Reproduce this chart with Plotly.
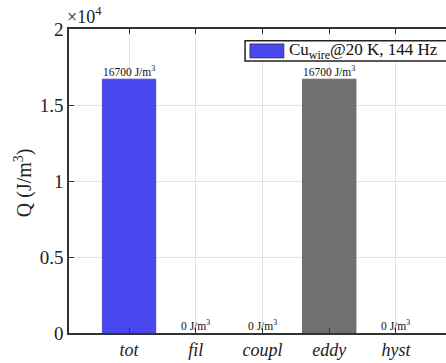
import plotly.graph_objects as go

# Loss components (J/m^3)
categories = ["tot", "fil", "coupl", "eddy", "hyst"]
positions = [1, 2, 3, 4, 5]
total_values = [16700, 0, 0, 0, 0]
component_values = [0, 0, 0, 16700, 0]
value_labels = [16700, 0, 0, 16700, 0]
y_ticks = [0, 5000, 10000, 15000, 20000]
y_tick_text = ["0", "0.5", "1", "1.5", "2"]
series_name = "Cu<sub>wire</sub>@20 K, 144 Hz"

serif = "Liberation Serif, DejaVu Serif, serif"
blue = "#4848EE"
gray = "#717171"

fig = go.Figure()
fig.add_trace(go.Bar(
    x=positions, y=total_values, width=0.8, name=series_name, showlegend=False,
    marker=dict(color=blue, line=dict(color="#3a3ad0",
                                      width=[0.8 if v else 0 for v in total_values])),
))
fig.add_trace(go.Bar(
    x=positions, y=component_values, width=0.8, showlegend=False,
    marker=dict(color=gray, line=dict(color="#5a5a5a",
                                      width=[0.8 if v else 0 for v in component_values])),
))

for xp, v in zip(positions, value_labels):
    fig.add_annotation(
        x=xp, y=v, text=f"{v} J/m<sup>3</sup>", showarrow=False,
        yanchor="bottom", yshift=-1, font=dict(family=serif, size=11.5, color="#111"),
    )

# exponent label of the y axis
fig.add_annotation(
    xref="paper", yref="paper", x=-0.01, y=1.0, xanchor="left", yanchor="bottom",
    text="×10<sup>4</sup>", showarrow=False, font=dict(family=serif, size=18, color="#222"),
)

# y axis title
fig.add_annotation(
    xref="paper", yref="paper", x=-0.122, y=0.493, xanchor="center", yanchor="middle",
    text="Q (J/m<sup>3</sup>)", textangle=-90, showarrow=False,
    font=dict(family=serif, size=20, color="#222"),
)

# legend box
fig.add_shape(type="rect", xref="paper", yref="paper", x0=0.467, x1=1.02, y0=0.895, y1=0.961,
              line=dict(color="#222", width=1.5), fillcolor="white", layer="above")
fig.add_shape(type="rect", xref="paper", yref="paper", x0=0.480, x1=0.570, y0=0.905, y1=0.951,
              line=dict(color="#333", width=0.8), fillcolor=blue, layer="above")
fig.add_annotation(
    xref="paper", yref="paper", x=0.577, y=0.928, xanchor="left", yanchor="middle",
    text=series_name, showarrow=False, font=dict(family=serif, size=17, color="#111"),
)

fig.update_layout(
    width=446, height=363,
    margin=dict(l=69, r=0, t=29, b=30),
    paper_bgcolor="white", plot_bgcolor="white",
    barmode="overlay",
    showlegend=False,
    xaxis=dict(
        range=[0.1, 5.75], tickvals=positions,
        ticktext=[f"<i>{c}</i>" for c in categories],
        showgrid=True, gridcolor="#e3e3e3", gridwidth=1,
        showline=True, linecolor="#333", linewidth=1.5, mirror="ticks",
        ticks="inside", ticklen=5, tickcolor="#333",
        tickfont=dict(family=serif, size=18, color="#222"),
        zeroline=False,
    ),
    yaxis=dict(
        range=[0, 20000], tickvals=y_ticks, ticktext=y_tick_text,
        showgrid=True, gridcolor="#e3e3e3", gridwidth=1,
        showline=True, linecolor="#333", linewidth=1.5,
        ticks="inside", ticklen=5, tickcolor="#333",
        tickfont=dict(family=serif, size=19, color="#222"),
        zeroline=False,
    ),
)

fig.write_html("out.html")
